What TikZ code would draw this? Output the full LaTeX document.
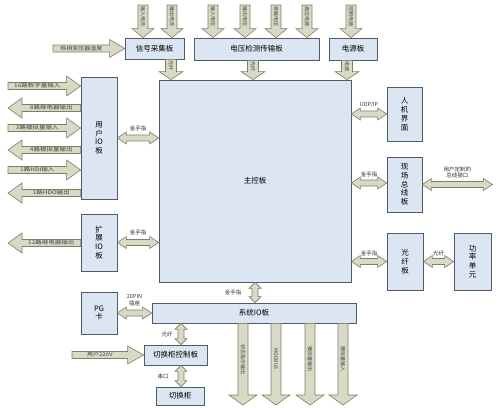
\documentclass[tikz,border=0pt]{standalone}
\usepackage{fontspec}
\setmainfont{Noto Sans CJK SC}
\usetikzlibrary{calc}
\definecolor{boxfill}{HTML}{DCE6F2}
\definecolor{boxline}{HTML}{4F5B6B}
\definecolor{arrfill}{HTML}{D9DAC6}
\definecolor{arrline}{HTML}{7F7F66}
\tikzset{
 board/.style={draw=boxline, fill=boxfill, line width=0.8pt, inner sep=0pt, font=\fontsize{7.5}{8.8}\selectfont, align=center},
 fatarrow/.style={draw=arrline, fill=arrfill, line width=0.6pt, line join=miter},
 arrtext/.style={font=\fontsize{5}{6}\selectfont, text=black!75, inner sep=0pt},
 lbl/.style={font=\fontsize{5.5}{6.5}\selectfont, inner sep=0.5pt, align=center, text=black!80},
}
% single fat arrow: #1 start, #2 tip, #3 shaft hw, #4 head hw, #5 head len, #6 text opts, #7 text
\newcommand\fatarr[7]{%
 \coordinate (fa-h) at ($(#2)!#5!(#1)$);
 \path[fatarrow] ($(#1)!#3!90:(#2)$) -- ($(fa-h)!#3!90:(#2)$) -- ($(fa-h)!#4!90:(#2)$) -- (#2)
   -- ($(fa-h)!#4!-90:(#2)$) -- ($(fa-h)!#3!-90:(#2)$) -- ($(#1)!#3!-90:(#2)$) -- cycle;
 \node[arrtext,#6] at ($(#1)!0.5!(fa-h)$) {#7};
}
% double fat arrow
\newcommand\dblarr[5]{%
 \coordinate (da-a) at ($(#1)!#5!(#2)$);
 \coordinate (da-b) at ($(#2)!#5!(#1)$);
 \path[fatarrow] (#1) -- ($(da-a)!#4!90:(#2)$) -- ($(da-a)!#3!90:(#2)$) -- ($(da-b)!#3!90:(#2)$)
   -- ($(da-b)!#4!90:(#2)$) -- (#2) -- ($(da-b)!#4!-90:(#2)$) -- ($(da-b)!#3!-90:(#2)$)
   -- ($(da-a)!#3!-90:(#2)$) -- ($(da-a)!#4!-90:(#2)$) -- cycle;
}
\begin{document}
\begin{tikzpicture}[x=1pt,y=-1pt]
\useasboundingbox (0,0) rectangle (500,407);
\fill[white] (0,0) rectangle (500,407);

% boards
\node[board,minimum width=59pt,minimum height=21pt] (sig) at (154.5,48.5) {信号采集板};
\node[board,minimum width=125pt,minimum height=22pt] (volt) at (256.5,49) {电压检测传输板};
\node[board,minimum width=48pt,minimum height=22pt] (pwr) at (353,49) {电源板};
\node[board,minimum width=192pt,minimum height=202pt] (main) at (255,181) {主控板};
\node[board,minimum width=36pt,minimum height=122pt] (uio) at (99,138) {用\\户\\IO\\板};
\node[board,minimum width=36pt,minimum height=57pt] (eio) at (99,242.5) {扩\\展\\IO\\板};
\node[board,minimum width=36pt,minimum height=42pt] (pg) at (99,313) {PG\\卡};
\node[board,minimum width=204pt,minimum height=20pt] (sio) at (254,313) {系统IO板};
\node[board,minimum width=63pt,minimum height=20pt] (qctl) at (175.5,355) {切换柜控制板};
\node[board,minimum width=48pt,minimum height=18pt] (qg) at (180,396) {切换柜};
\node[board,minimum width=35pt,minimum height=54pt] (hmi) at (404.5,114) {人\\机\\界\\面};
\node[board,minimum width=35pt,minimum height=55pt] (fb) at (404.5,184.5) {现\\场\\总\\线\\板};
\node[board,minimum width=36pt,minimum height=57pt] (fo) at (405,261.5) {光\\纤\\板};
\node[board,minimum width=37pt,minimum height=57pt] (pu) at (472.5,261.5) {功\\率\\单\\元};

% top inputs
\foreach \n/\x in {in1/143,in2/172}{\coordinate (\n) at (\x,5); \coordinate (\n e) at (\n |- sig.north);}
\foreach \n/\x in {in3/213,in4/245,in5/276,in6/307}{\coordinate (\n) at (\x,5); \coordinate (\n e) at (\n |- volt.north);}
\coordinate (in7) at (351,5); \coordinate (in7e) at (in7 |- pwr.north);
\fatarr{in1}{in1e}{5pt}{11pt}{9pt}{rotate=-90}{输入电流}
\fatarr{in2}{in2e}{5pt}{11pt}{9pt}{rotate=-90}{输出电流}
\fatarr{in3}{in3e}{5pt}{11pt}{9pt}{rotate=-90}{输入电压}
\fatarr{in4}{in4e}{5pt}{11pt}{9pt}{rotate=-90}{输出电压}
\fatarr{in5}{in5e}{5pt}{11pt}{9pt}{rotate=-90}{旁路电压}
\fatarr{in6}{in6e}{5pt}{11pt}{9pt}{rotate=-90}{高压电源}
\fatarr{in7}{in7e}{5pt}{11pt}{9pt}{rotate=-90}{控制电源}

% boards to main
\coordinate (x1) at (171,0); \coordinate (d1s) at (x1 |- sig.south); \coordinate (d1e) at (x1 |- main.north);
\coordinate (x2) at (253,0); \coordinate (d2s) at (x2 |- volt.south); \coordinate (d2e) at (x2 |- main.north);
\coordinate (x3) at (347,0); \coordinate (d3s) at (x3 |- pwr.south); \coordinate (d3e) at (x3 |- main.north);
\fatarr{d1s}{d1e}{5.5pt}{12pt}{8pt}{rotate=-90}{光纤}
\fatarr{d2s}{d2e}{5.5pt}{12pt}{8pt}{rotate=-90}{光纤}
\fatarr{d3s}{d3e}{5.5pt}{12pt}{8pt}{rotate=-90}{电源}

% left input to signal board
\coordinate (lt) at (53,0); \coordinate (lts) at (lt |- sig.west);
\fatarr{lts}{sig.west}{3.5pt}{9pt}{15pt}{xscale=1.2}{移相变压器温度}

% user IO arrows
\coordinate (xl) at (8,0);
\foreach \n/\y in {u1/86,u2/108,u3/128,u4/150,u5/170,u6/193}{\coordinate (\n) at (8,\y); \coordinate (\n e) at (\n -| uio.west);}
\fatarr{u1}{u1e}{3.5pt}{10pt}{14pt}{xscale=1.3}{16路数字量输入}
\fatarr{u2e}{u2}{3.5pt}{10pt}{14pt}{xscale=1.3}{8路继电器输出}
\fatarr{u3}{u3e}{3.5pt}{10pt}{14pt}{xscale=1.3}{3路模拟量输入}
\fatarr{u4e}{u4}{3.5pt}{10pt}{14pt}{xscale=1.3}{4路模拟量输出}
\fatarr{u5}{u5e}{3.5pt}{10pt}{14pt}{xscale=1.3}{1路HDI输入}
\fatarr{u6e}{u6}{3.5pt}{10pt}{14pt}{xscale=1.3}{1路HDO输出}
\coordinate (e1) at (8,243); \coordinate (e1s) at (e1 -| eio.west);
\fatarr{e1s}{e1}{3.5pt}{10pt}{14pt}{xscale=1.3}{12路继电器输出}

% user 220V
\coordinate (p2) at (72,0); \coordinate (p2s) at (p2 |- qctl.west);
\fatarr{p2s}{qctl.west}{3.5pt}{9pt}{16pt}{xscale=1.2}{用户220V}

% bottom outputs
\foreach \n/\x in {b1/243,b2/276,b3/310,b4/343}{\coordinate (\n x) at (\x,405); \coordinate (\n s) at (\n x |- sio.south);}
\fatarr{b1s}{b1x}{5pt}{14pt}{10pt}{rotate=-90}{状态指示输出}
\fatarr{b2s}{b2x}{5pt}{14pt}{10pt}{rotate=-90}{MODBUS}
\fatarr{b3s}{b3x}{5pt}{14pt}{10pt}{rotate=-90}{模拟量输出}
\fatarr{b4s}{b4x}{5pt}{14pt}{10pt}{rotate=-90}{模拟量输入}

% double arrows
\coordinate (c1a) at (uio.east); \coordinate (c1b) at (c1a -| main.west);
\dblarr{c1a}{c1b}{3pt}{6pt}{9pt}
\node[lbl] (l1) at ($(c1a)!0.5!(c1b)+(0,-10)$) {金手指};
\coordinate (c2a) at (eio.east); \coordinate (c2b) at (c2a -| main.west);
\dblarr{c2a}{c2b}{3pt}{6pt}{9pt}
\node[lbl] (l2) at ($(c2a)!0.5!(c2b)+(0,-10)$) {金手指};
\coordinate (c3b) at (hmi.west); \coordinate (c3a) at (c3b -| main.east);
\dblarr{c3a}{c3b}{3pt}{6pt}{9pt}
\node[lbl] (l3) at ($(c3a)!0.5!(c3b)+(0,-9)$) {UDP/IP};
\coordinate (c4b) at ($(fb.west)+(0,-1.5)$); \coordinate (c4a) at (c4b -| main.east);
\dblarr{c4a}{c4b}{3pt}{6pt}{9pt}
\node[lbl] (l4) at ($(c4a)!0.5!(c4b)+(0,-9)$) {金手指};
\coordinate (c5b) at (fo.west); \coordinate (c5a) at (c5b -| main.east);
\dblarr{c5a}{c5b}{3pt}{6pt}{9pt}
\node[lbl] (l5) at ($(c5a)!0.5!(c5b)+(0,-8)$) {金手指};
\coordinate (c6a) at (fo.east); \coordinate (c6b) at (c6a -| pu.west);
\dblarr{c6a}{c6b}{3pt}{6pt}{9pt}
\node[lbl] (l6) at ($(c6a)!0.5!(c6b)+(0,-8)$) {光纤};
\coordinate (c7a) at (fb.east); \coordinate (c7b) at ($(c7a)+(70,0)$);
\dblarr{c7a}{c7b}{3pt}{6pt}{9pt}
\node[lbl] (l7) at ($(c7a)!0.5!(c7b)+(0,-12)$) {用户定制的\\总线接口};
\coordinate (c8x) at (255,0); \coordinate (c8a) at (c8x |- main.south); \coordinate (c8b) at (c8x |- sio.north);
\dblarr{c8a}{c8b}{3pt}{6pt}{6pt}
\node[lbl] (l8) at ($(c8a)!0.5!(c8b)+(-22,0)$) {金手指};
\coordinate (c9a) at (pg.east); \coordinate (c9b) at (c9a -| sio.west);
\dblarr{c9a}{c9b}{3pt}{6pt}{9pt}
\node[lbl] (l9) at ($(c9a)!0.5!(c9b)+(0,-13)$) {20PIN\\插座};
\coordinate (c10x) at (181,0); \coordinate (c10a) at (c10x |- sio.south); \coordinate (c10b) at (c10x |- qctl.north);
\dblarr{c10a}{c10b}{3pt}{6pt}{6pt}
\node[lbl] (l10) at ($(c10a)!0.5!(c10b)+(-14,0)$) {光纤};
\coordinate (c11a) at (c10x |- qctl.south); \coordinate (c11b) at (c10x |- qg.north);
\dblarr{c11a}{c11b}{3pt}{6pt}{6pt}
\node[lbl] (l11) at ($(c11a)!0.5!(c11b)+(-18,0)$) {串口};
\end{tikzpicture}
\end{document}
